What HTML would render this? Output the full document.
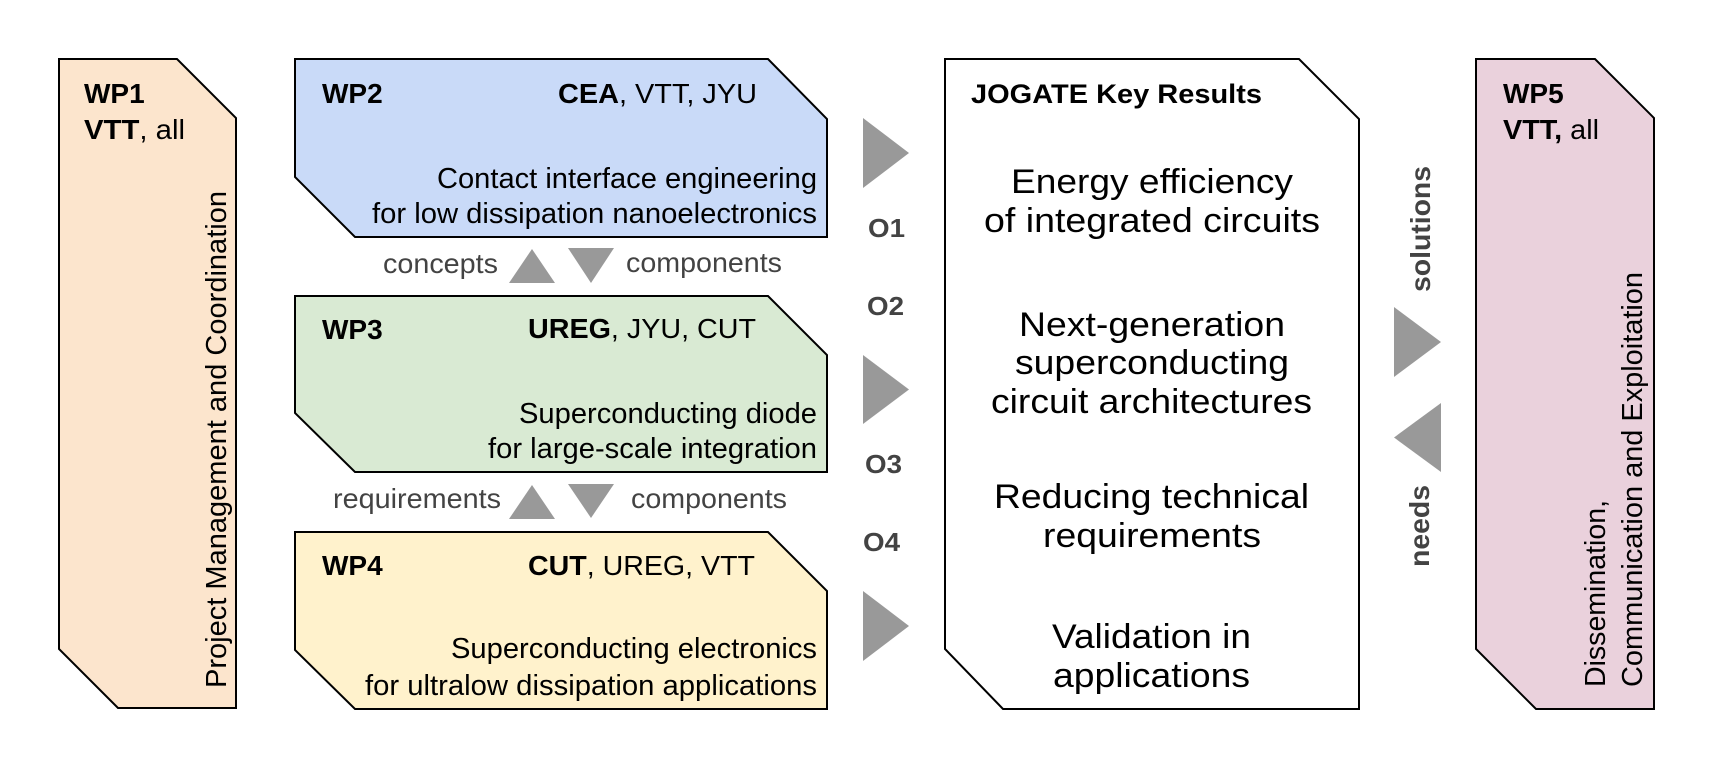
<!DOCTYPE html>
<html>
<head>
<meta charset="utf-8">
<style>
  html, body { margin:0; padding:0; background:#ffffff; }
  svg { display:block; }
  text { font-family: "Liberation Sans", Arial, sans-serif; }
</style>
</head>
<body>
<svg width="1713" height="768" viewBox="0 0 1713 768" xmlns="http://www.w3.org/2000/svg">
  <rect x="0" y="0" width="1713" height="768" fill="#ffffff"/>

  <!-- Shapes -->
  <g stroke="#000" stroke-width="2" stroke-linejoin="miter">
    <polygon points="59,59 177,59 236,118 236,708 118,708 59,649" fill="#fce5cd"/>
    <polygon points="295,59 768,59 827,119 827,237 355,237 295,177" fill="#c9daf8"/>
    <polygon points="295,296 768,296 827,355 827,472 355,472 295,413" fill="#d9ead3"/>
    <polygon points="295,532 768,532 827,591 827,709 355,709 295,650" fill="#fff2cc"/>
    <polygon points="945,59 1299,59 1359,119 1359,709 1003,709 945,649" fill="#ffffff"/>
    <polygon points="1476,59 1595,59 1654,118 1654,709 1536,709 1476,649" fill="#ead1dc"/>
  </g>

  <!-- Triangles -->
  <g fill="#999999">
    <polygon points="863,118 909,153 863,188"/>
    <polygon points="863,355 909,389.5 863,424"/>
    <polygon points="863,591 909,626 863,661"/>
    <polygon points="509,283 555,283 532,249"/>
    <polygon points="568,248 614,248 591,283"/>
    <polygon points="509,519 555,519 532,485"/>
    <polygon points="568,484 614,484 591,518"/>
    <polygon points="1394,307 1441,342 1394,377"/>
    <polygon points="1441,403 1394,437.5 1441,472"/>
  </g>

  <!-- WP1 -->
  <text x="84" y="103" font-size="28" font-weight="bold" fill="#000">WP1</text>
  <text x="84" y="139" font-size="28" fill="#000" textLength="101" lengthAdjust="spacingAndGlyphs"><tspan font-weight="bold">VTT</tspan>, all</text>
  <text transform="translate(226,688) rotate(-90)" font-size="29" fill="#000" textLength="497" lengthAdjust="spacingAndGlyphs">Project Management and Coordination</text>

  <!-- WP2 -->
  <text x="322" y="103" font-size="28" font-weight="bold" fill="#000">WP2</text>
  <text x="558" y="103" font-size="28" fill="#000" textLength="199" lengthAdjust="spacingAndGlyphs"><tspan font-weight="bold">CEA</tspan>, VTT, JYU</text>
  <text x="437" y="188" font-size="28.5" fill="#000" textLength="380" lengthAdjust="spacingAndGlyphs">Contact interface engineering</text>
  <text x="372" y="223" font-size="28.5" fill="#000" textLength="445" lengthAdjust="spacingAndGlyphs">for low dissipation nanoelectronics</text>

  <!-- WP3 -->
  <text x="322" y="339" font-size="28" font-weight="bold" fill="#000">WP3</text>
  <text x="528" y="338" font-size="28" fill="#000" textLength="228" lengthAdjust="spacingAndGlyphs"><tspan font-weight="bold">UREG</tspan>, JYU, CUT</text>
  <text x="519" y="423" font-size="28.5" fill="#000" textLength="298" lengthAdjust="spacingAndGlyphs">Superconducting diode</text>
  <text x="488" y="458" font-size="28.5" fill="#000" textLength="329" lengthAdjust="spacingAndGlyphs">for large-scale integration</text>

  <!-- WP4 -->
  <text x="322" y="575" font-size="28" font-weight="bold" fill="#000">WP4</text>
  <text x="528" y="575" font-size="28" fill="#000" textLength="227" lengthAdjust="spacingAndGlyphs"><tspan font-weight="bold">CUT</tspan>, UREG, VTT</text>
  <text x="451" y="658" font-size="28.5" fill="#000" textLength="366" lengthAdjust="spacingAndGlyphs">Superconducting electronics</text>
  <text x="365" y="695" font-size="28.5" fill="#000" textLength="452" lengthAdjust="spacingAndGlyphs">for ultralow dissipation applications</text>

  <!-- Link labels -->
  <text x="383" y="273" font-size="28" fill="#434343" textLength="115" lengthAdjust="spacingAndGlyphs">concepts</text>
  <text x="626" y="272" font-size="28" fill="#434343" textLength="156" lengthAdjust="spacingAndGlyphs">components</text>
  <text x="333" y="508" font-size="28" fill="#434343" textLength="168" lengthAdjust="spacingAndGlyphs">requirements</text>
  <text x="631" y="508" font-size="28" fill="#434343" textLength="156" lengthAdjust="spacingAndGlyphs">components</text>

  <!-- O labels -->
  <g font-size="26" font-weight="bold" fill="#434343">
    <text x="868" y="237" textLength="37" lengthAdjust="spacingAndGlyphs">O1</text>
    <text x="867" y="315" textLength="37" lengthAdjust="spacingAndGlyphs">O2</text>
    <text x="865" y="473" textLength="37" lengthAdjust="spacingAndGlyphs">O3</text>
    <text x="863" y="551" textLength="37" lengthAdjust="spacingAndGlyphs">O4</text>
  </g>

  <!-- Key results -->
  <text x="971" y="103" font-size="27" font-weight="bold" fill="#000" textLength="291" lengthAdjust="spacingAndGlyphs">JOGATE Key Results</text>
  <g font-size="34" fill="#000">
    <text x="1011" y="193" textLength="282" lengthAdjust="spacingAndGlyphs">Energy efficiency</text>
    <text x="984" y="232" textLength="336" lengthAdjust="spacingAndGlyphs">of integrated circuits</text>
    <text x="1019" y="336" textLength="266" lengthAdjust="spacingAndGlyphs">Next-generation</text>
    <text x="1015" y="374" textLength="274" lengthAdjust="spacingAndGlyphs">superconducting</text>
    <text x="991" y="413" textLength="321" lengthAdjust="spacingAndGlyphs">circuit architectures</text>
    <text x="994" y="508" textLength="315" lengthAdjust="spacingAndGlyphs">Reducing technical</text>
    <text x="1043" y="547" textLength="218" lengthAdjust="spacingAndGlyphs">requirements</text>
    <text x="1052" y="648" textLength="199" lengthAdjust="spacingAndGlyphs">Validation in</text>
    <text x="1053" y="687" textLength="197" lengthAdjust="spacingAndGlyphs">applications</text>
  </g>

  <!-- solutions / needs -->
  <text transform="translate(1430,292) rotate(-90)" font-size="28" font-weight="bold" fill="#434343" textLength="126" lengthAdjust="spacingAndGlyphs">solutions</text>
  <text transform="translate(1429,567) rotate(-90)" font-size="28" font-weight="bold" fill="#434343" textLength="82" lengthAdjust="spacingAndGlyphs">needs</text>

  <!-- WP5 -->
  <text x="1503" y="103" font-size="28" font-weight="bold" fill="#000">WP5</text>
  <text x="1503" y="139" font-size="28" fill="#000" textLength="96" lengthAdjust="spacingAndGlyphs"><tspan font-weight="bold">VTT,</tspan> all</text>
  <text transform="translate(1605,687) rotate(-90)" font-size="29" fill="#000" textLength="187" lengthAdjust="spacingAndGlyphs">Dissemination,</text>
  <text transform="translate(1642,687) rotate(-90)" font-size="29" fill="#000" textLength="415" lengthAdjust="spacingAndGlyphs">Communication and Exploitation</text>
</svg>
</body>
</html>
